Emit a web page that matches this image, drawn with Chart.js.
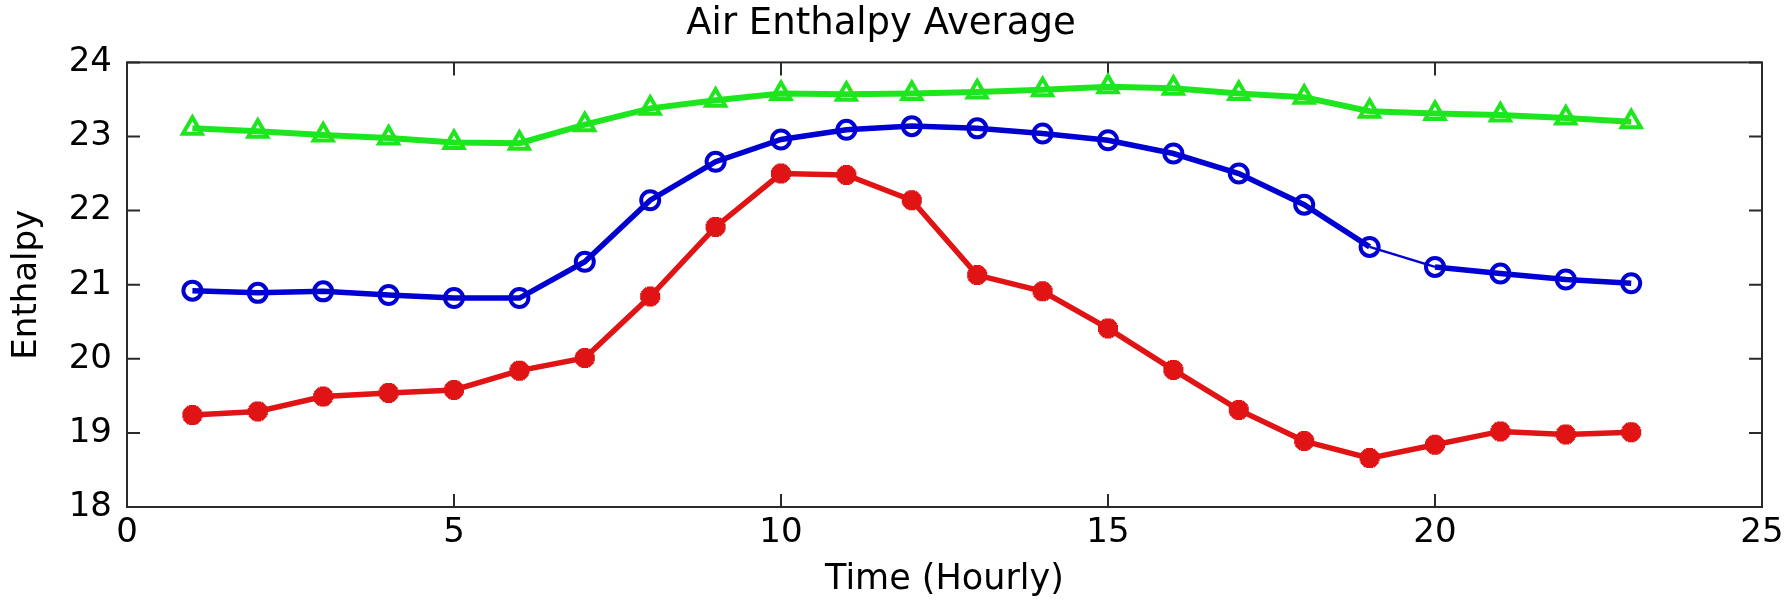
<!DOCTYPE html>
<html>
<head>
<meta charset="utf-8">
<script src="https://cdn.jsdelivr.net/npm/chart.js@4.4.1/dist/chart.umd.min.js"></script>
<style>
  html, body { margin: 0; padding: 0; background: #ffffff; }
  #wrap { width: 1790px; height: 605px; }
</style>
</head>
<body>
<div id="wrap"><canvas id="c" width="1790" height="605"></canvas></div>
<script>
// ---- data ----
const hours = [1,2,3,4,5,6,7,8,9,10,11,12,13,14,15,16,17,18,19,20,21,22,23];
const greenSeries = [23.11,23.07,23.02,22.98,22.92,22.91,23.16,23.38,23.49,23.58,23.57,23.58,23.60,23.63,23.67,23.65,23.58,23.53,23.34,23.31,23.29,23.25,23.20];
const blueSeries  = [20.92,20.89,20.91,20.86,20.82,20.82,21.31,22.14,22.66,22.96,23.09,23.14,23.11,23.04,22.95,22.77,22.50,22.08,21.51,21.24,21.15,21.07,21.02];
const redSeries   = [19.24,19.29,19.49,19.54,19.58,19.84,20.01,20.84,21.78,22.50,22.48,22.14,21.13,20.91,20.41,19.85,19.31,18.89,18.66,18.84,19.02,18.98,19.01];
const xTicks = [0,5,10,15,20,25];
const yTicks = [18,19,20,21,22,23,24];
const titleText = 'Air Enthalpy Average';
const xLabel = 'Time (Hourly)';
const yLabel = 'Enthalpy';

const toPts = (vals) => vals.map((v, i) => ({ x: hours[i], y: v }));
const FONT = "'DejaVu Sans', sans-serif";

// frame + inward ticks on all four sides (MATLAB style box)
const framePlugin = {
  id: 'frame',
  beforeDatasetsDraw(chart) {
    const { ctx, chartArea: a, scales: { x, y } } = chart;
    ctx.save();
    ctx.strokeStyle = '#2a2a2a';
    ctx.lineWidth = 2;
    ctx.strokeRect(a.left, a.top, a.right - a.left, a.bottom - a.top);
    const L = 13;
    ctx.beginPath();
    xTicks.forEach(v => {
      const px = x.getPixelForValue(v);
      ctx.moveTo(px, a.bottom); ctx.lineTo(px, a.bottom - L);
      ctx.moveTo(px, a.top);    ctx.lineTo(px, a.top + L);
    });
    yTicks.forEach(v => {
      const py = y.getPixelForValue(v);
      ctx.moveTo(a.left, py);  ctx.lineTo(a.left + L, py);
      ctx.moveTo(a.right, py); ctx.lineTo(a.right - L, py);
    });
    ctx.stroke();
    ctx.restore();
  }
};

new Chart(document.getElementById('c'), {
  type: 'line',
  data: {
    datasets: [
      {
        label: 'Green',
        data: toPts(greenSeries),
        borderColor: '#1ee61e',
        backgroundColor: 'rgba(0,0,0,0)',
        borderWidth: 6,
        pointStyle: 'triangle',
        pointRadius: 11,
        pointBorderWidth: 4,
        pointBorderColor: '#1ee61e',
        pointBackgroundColor: 'rgba(0,0,0,0)',
        tension: 0
      },
      {
        label: 'Blue',
        data: toPts(blueSeries),
        borderColor: '#0000d2',
        backgroundColor: 'rgba(0,0,0,0)',
        borderWidth: 5.5,
        segment: { borderWidth: c => (c.p0DataIndex === 18 ? 2.5 : 5.5) },
        pointStyle: 'circle',
        pointRadius: 9,
        pointBorderWidth: 4,
        pointBorderColor: '#0000d2',
        pointBackgroundColor: 'rgba(0,0,0,0)',
        tension: 0
      },
      {
        label: 'Red',
        data: toPts(redSeries),
        borderColor: '#e01414',
        backgroundColor: 'rgba(0,0,0,0)',
        borderWidth: 5.5,
        pointStyle: 'star',
        pointRadius: 10,
        pointBorderWidth: 7,
        pointBorderColor: '#e01414',
        pointBackgroundColor: '#e01414',
        tension: 0
      }
    ]
  },
  options: {
    responsive: false,
    animation: false,
    devicePixelRatio: 1,
    layout: { padding: { left: 0, right: 28, top: 0, bottom: 0 } },
    plugins: {
      legend: { display: false },
      tooltip: { enabled: false },
      title: {
        display: true,
        text: titleText,
        color: '#000',
        font: { family: FONT, size: 37, weight: 'normal' },
        padding: { top: 2, bottom: 16 }
      }
    },
    scales: {
      x: {
        type: 'linear',
        min: 0, max: 25,
        afterBuildTicks: s => { s.ticks = xTicks.map(v => ({ value: v })); },
        afterFit: s => { s.height = 98; },
        grid: { display: false, drawTicks: false },
        border: { display: false },
        ticks: { color: '#000', font: { family: FONT, size: 34 }, padding: 6, maxRotation: 0, autoSkip: false },
        title: { display: true, text: xLabel, color: '#000', font: { family: FONT, size: 35 }, padding: { top: 0, bottom: 4 } }
      },
      y: {
        type: 'linear',
        min: 18, max: 24,
        afterBuildTicks: s => { s.ticks = yTicks.map(v => ({ value: v })); },
        afterFit: s => { s.width = 127; },
        grid: { display: false, drawTicks: false },
        border: { display: false },
        ticks: { color: '#000', font: { family: FONT, size: 34 }, padding: 15, autoSkip: false },
        title: { display: true, text: yLabel, color: '#000', font: { family: FONT, size: 34 }, padding: { top: 7, bottom: 0 } }
      }
    }
  },
  plugins: [framePlugin]
});
</script>
</body>
</html>
